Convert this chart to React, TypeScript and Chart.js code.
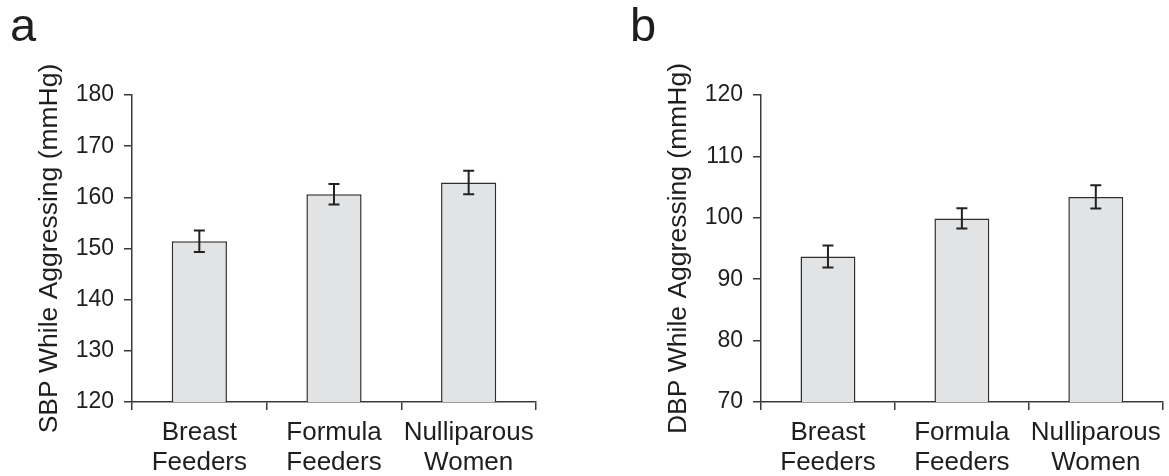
import React, { useEffect, useRef } from "react";
import { Chart, registerables } from "chart.js";

Chart.register(...registerables);

const categories: string[][] = [
  ["Breast", "Feeders"],
  ["Formula", "Feeders"],
  ["Nulliparous", "Women"],
];

const sbpMeans = [151.4, 160.6, 162.9];
const sbpErrors = [2.1, 2.0, 2.3];
const sbpTicks = { min: 120, max: 180, step: 10 };

const dbpMeans = [93.7, 99.9, 103.4];
const dbpErrors = [1.8, 1.65, 1.9];
const dbpTicks = { min: 70, max: 120, step: 10 };

const FONT = "'Liberation Sans', Arial, Helvetica, sans-serif";
const INK = "#1e1e1e";
const AXIS = "#3a3a3a";

const errorBarPlugin = {
  id: "errorBars",
  afterDatasetsDraw(chart: any) {
    const errs: number[] = chart.options.plugins.errorBars?.errors || [];
    const meta = chart.getDatasetMeta(0);
    const ys = chart.scales.y;
    const ds = chart.data.datasets[0].data as number[];
    const ctx = chart.ctx;
    ctx.save();
    ctx.strokeStyle = "#222";
    ctx.lineWidth = 2;
    meta.data.forEach((bar: any, i: number) => {
      const x = bar.x;
      const top = ys.getPixelForValue(ds[i] + errs[i]);
      const bot = ys.getPixelForValue(ds[i] - errs[i]);
      const cap = 5.5;
      ctx.beginPath();
      ctx.moveTo(x, top);
      ctx.lineTo(x, bot);
      ctx.moveTo(x - cap, top);
      ctx.lineTo(x + cap, top);
      ctx.moveTo(x - cap, bot);
      ctx.lineTo(x + cap, bot);
      ctx.stroke();
    });
    ctx.restore();
  },
};

const panelLetterPlugin = {
  id: "panelLetter",
  afterDraw(chart: any) {
    const opt = chart.options.plugins.panelLetter;
    if (!opt) return;
    const ctx = chart.ctx;
    ctx.save();
    ctx.fillStyle = INK;
    ctx.font = `47px ${FONT}`;
    ctx.textBaseline = "alphabetic";
    ctx.textAlign = "left";
    ctx.fillText(opt.text, opt.x, opt.y);
    ctx.restore();
  },
};

interface PanelProps {
  left: number;
  width: number;
  letter: string;
  letterX: number;
  title: string;
  means: number[];
  errors: number[];
  ticks: { min: number; max: number; step: number };
  padRight: number;
}

function Panel(props: PanelProps) {
  const ref = useRef<HTMLCanvasElement>(null);
  useEffect(() => {
    const canvas = ref.current;
    if (!canvas) return;
    const chart = new Chart(canvas, {
      type: "bar",
      data: {
        labels: categories as any,
        datasets: [
          {
            data: props.means,
            backgroundColor: "#e2e3e5",
            borderColor: "#2e2e2e",
            borderWidth: 1.5,
            categoryPercentage: 1,
            barPercentage: 0.41,
          },
        ],
      },
      options: {
        animation: false,
        responsive: false,
        maintainAspectRatio: false,
        layout: { padding: { left: 0, top: 95, right: props.padRight, bottom: 0 } },
        plugins: {
          legend: { display: false },
          tooltip: { enabled: false },
          errorBars: { errors: props.errors },
          panelLetter: { text: props.letter, x: props.letterX, y: 41 },
        } as any,
        scales: {
          x: {
            grid: {
              display: true,
              drawOnChartArea: false,
              drawTicks: true,
              tickLength: 8,
              color: AXIS,
              lineWidth: 1.5,
              offset: true,
            },
            border: { display: true, color: AXIS, width: 1.5 },
            ticks: {
              color: INK,
              font: { family: FONT, size: 26, lineHeight: 1.165 },
              padding: 7.5,
              maxRotation: 0,
              minRotation: 0,
              autoSkip: false,
            },
            afterFit(scale: any) {
              scale.height = 74;
            },
          },
          y: {
            min: props.ticks.min,
            max: props.ticks.max,
            grid: {
              display: true,
              drawOnChartArea: false,
              drawTicks: true,
              tickLength: 8,
              color: AXIS,
              lineWidth: 1.5,
            },
            border: { display: true, color: AXIS, width: 1.5 },
            ticks: {
              stepSize: props.ticks.step,
              color: INK,
              font: { family: FONT, size: 23 },
              padding: 10,
            },
            title: {
              display: true,
              text: props.title,
              color: INK,
              font: { family: FONT, size: 26.5, lineHeight: 1.2 },
              padding: { top: 34, bottom: 0 },
            },
            afterFit(scale: any) {
              scale.width = 132;
            },
          },
        },
      },
      plugins: [errorBarPlugin, panelLetterPlugin],
    });
    return () => chart.destroy();
  }, []);
  return (
    <canvas
      ref={ref}
      width={props.width}
      height={476}
      style={{ position: "absolute", left: props.left, top: 0, width: props.width, height: 476 }}
    />
  );
}

export default function App() {
  return (
    <div
      style={{
        position: "fixed",
        left: 0,
        top: 0,
        width: 1169,
        height: 476,
        background: "#fff",
        overflow: "hidden",
      }}
    >
      <Panel
        left={0}
        width={580}
        letter="a"
        letterX={10}
        title="SBP While Aggressing (mmHg)"
        means={sbpMeans}
        errors={sbpErrors}
        ticks={sbpTicks}
        padRight={44}
      />
      <Panel
        left={629}
        width={540}
        letter="b"
        letterX={1}
        title="DBP While Aggressing (mmHg)"
        means={dbpMeans}
        errors={dbpErrors}
        ticks={dbpTicks}
        padRight={4}
      />
    </div>
  );
}
